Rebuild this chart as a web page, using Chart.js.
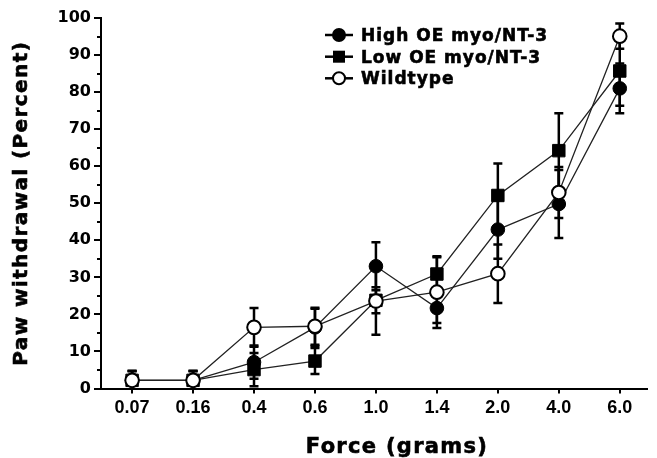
<!DOCTYPE html>
<html><head><meta charset="utf-8">
<script src="https://cdn.jsdelivr.net/npm/chart.js@4"></script>
<style>html,body{margin:0;padding:0;background:#fff}#wrap{width:657px;height:458px;position:relative}</style>
</head><body><div id="wrap"><canvas id="c"></canvas></div>
<script>
const categories = ['0.07','0.16','0.4','0.6','1.0','1.4','2.0','4.0','6.0'];
const seriesNames = ['High OE myo/NT-3','Low OE myo/NT-3','Wildtype'];
const highOE    = [2.2, 2.2, 7.1, 16.5, 33.0, 21.7, 42.9, 49.8, 81.0];
const highOEErr = [2.5, 2.5, 4.5, 5.0, 6.5, 4.0, 7.9, 9.2, 6.7];
const lowOE     = [2.2, 2.2, 5.1, 7.4, 23.8, 30.9, 52.1, 64.2, 85.7];
const lowOEErr  = [2.5, 2.5, 4.5, 3.5, 3.5, 4.5, 8.6, 10.1, 9.4];
const wildtype    = [2.2, 2.2, 16.5, 16.8, 23.6, 26.0, 31.0, 52.9, 95.1];
const wildtypeErr = [2.5, 2.5, 5.2, 5.0, 9.1, 9.7, 7.9, 6.9, 3.4];
const yTicks = [0,10,20,30,40,50,60,70,80,90,100];
const yMinorTicks = [5,15,25,35,45,55,65,75,85,95];
const xTitle = 'Force (grams)';
const yTitle = 'Paw withdrawal (Percent)';

const BOLD = '"DejaVu Sans", Verdana, sans-serif';
const toPts = arr => arr.map((v, i) => ({x: i, y: v}));
const errs = [highOEErr, lowOEErr, wildtypeErr];

function heavyText(ctx, t, x, y) {
  ctx.lineWidth = 0.6;
  ctx.strokeStyle = '#000';
  ctx.fillText(t, x, y);
  ctx.strokeText(t, x, y);
}

const errorBars = {
  id: 'errorBars',
  beforeDatasetsDraw(chart) {
    const {ctx, chartArea, scales: {x, y}} = chart;
    ctx.save();
    ctx.beginPath();
    ctx.rect(chartArea.left, chartArea.top - 5, chartArea.right - chartArea.left, chartArea.bottom - chartArea.top + 5);
    ctx.clip();
    ctx.strokeStyle = '#000';
    ctx.lineWidth = 2.5;
    chart.data.datasets.forEach((ds, di) => {
      ds.data.forEach((p, i) => {
        const e = errs[di][i];
        const px = x.getPixelForValue(p.x);
        const yt = y.getPixelForValue(p.y + e);
        const yb = y.getPixelForValue(p.y - e);
        ctx.beginPath();
        ctx.moveTo(px, yt); ctx.lineTo(px, yb);
        ctx.moveTo(px - 4.5, yt); ctx.lineTo(px + 4.5, yt);
        ctx.moveTo(px - 4.5, yb); ctx.lineTo(px + 4.5, yb);
        ctx.stroke();
      });
    });
    ctx.restore();
  }
};

const extras = {
  id: 'extras',
  afterDraw(chart) {
    const {ctx, chartArea, scales: {x, y}} = chart;
    ctx.save();
    // minor y ticks
    ctx.strokeStyle = '#000';
    ctx.lineWidth = 2;
    yMinorTicks.forEach(v => {
      const py = Math.round(y.getPixelForValue(v));
      ctx.beginPath();
      ctx.moveTo(chartArea.left - 4, py); ctx.lineTo(chartArea.left, py);
      ctx.stroke();
    });
    // axis titles
    ctx.fillStyle = '#000';
    ctx.font = 'bold 21px ' + BOLD;
    ctx.letterSpacing = '1.3px';
    ctx.textAlign = 'center';
    ctx.textBaseline = 'alphabetic';
    heavyText(ctx, xTitle, 397, 453);
    ctx.save();
    ctx.translate(27, (chartArea.top + chartArea.bottom) / 2);
    ctx.rotate(-Math.PI / 2);
    ctx.font = 'bold 20px ' + BOLD;
    ctx.letterSpacing = '1.4px';
    heavyText(ctx, yTitle, 0, 0);
    ctx.restore();
    // legend
    ctx.font = 'bold 17px ' + BOLD;
    ctx.letterSpacing = '1px';
    ctx.textAlign = 'left';
    const rows = [35, 56.7, 78.3];
    chart.data.datasets.forEach((ds, di) => {
      const cy = rows[di];
      ctx.strokeStyle = '#000';
      ctx.lineWidth = 2.5;
      ctx.beginPath(); ctx.moveTo(325, cy); ctx.lineTo(353, cy); ctx.stroke();
      ctx.lineWidth = 2;
      if (di === 1) {
        ctx.fillStyle = '#000';
        ctx.fillRect(339 - 6, cy - 6, 12, 12);
      } else {
        ctx.beginPath(); ctx.arc(339, cy, 6, 0, Math.PI * 2);
        ctx.fillStyle = di === 0 ? '#000' : '#fff';
        ctx.fill(); ctx.stroke();
      }
      ctx.fillStyle = '#000';
      heavyText(ctx, ds.label, 361, cy + 6);
    });
    ctx.restore();
  }
};

const common = {showLine: true, tension: 0, borderColor: '#222', borderWidth: 1.3,
  pointBorderColor: '#000', pointHoverRadius: 6.5};

new Chart(document.getElementById('c'), {
  type: 'scatter',
  data: {
    datasets: [
      Object.assign({}, common, {label: seriesNames[0], data: toPts(highOE), order: 1,
        pointStyle: 'circle', pointRadius: 6.8, pointBackgroundColor: '#000', pointBorderWidth: 1}),
      Object.assign({}, common, {label: seriesNames[1], data: toPts(lowOE), order: 2,
        pointStyle: 'rect', pointRadius: 8.8, pointBackgroundColor: '#000', pointBorderWidth: 1}),
      Object.assign({}, common, {label: seriesNames[2], data: toPts(wildtype), order: 0,
        pointStyle: 'circle', pointRadius: 6.8, pointBackgroundColor: '#fff', pointBorderWidth: 2})
    ]
  },
  options: {
    responsive: true,
    maintainAspectRatio: false,
    animation: false,
    events: [],
    layout: {padding: {top: 18, right: 1, left: 0, bottom: 0}},
    plugins: {legend: {display: false}, tooltip: {enabled: false}},
    scales: {
      x: {
        type: 'linear', min: -0.51, max: 8.45,
        afterBuildTicks: s => { s.ticks = categories.map((c, i) => ({value: i})); },
        afterFit: s => { s.height = 69.5; },
        ticks: {callback: (v) => categories[Math.round(v)], color: '#000',
          font: {family: '"Liberation Sans", Arial, sans-serif', size: 18, weight: 'bold'}, padding: 4, maxRotation: 0, autoSkip: false},
        grid: {drawOnChartArea: false, drawTicks: true, tickLength: 5, color: '#000', lineWidth: 2},
        border: {color: '#000', width: 2}
      },
      y: {
        min: 0, max: 100,
        afterBuildTicks: s => { s.ticks = yTicks.map(v => ({value: v})); },
        afterFit: s => { s.width = 101; },
        ticks: {color: '#000', font: {family: BOLD, size: 16, weight: 'bold'}, padding: 3},
        grid: {drawOnChartArea: false, drawTicks: true, tickLength: 7, color: '#000', lineWidth: 2},
        border: {color: '#000', width: 2}
      }
    }
  },
  plugins: [errorBars, extras]
});
</script></body></html>
